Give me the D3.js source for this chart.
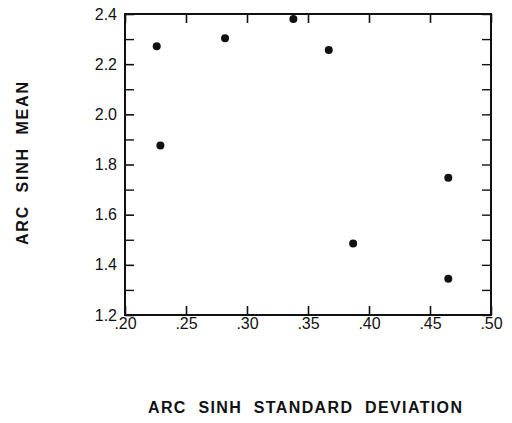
<!DOCTYPE html>
<html>
<head>
<meta charset="utf-8">
<script src="https://cdn.jsdelivr.net/npm/d3@7"></script>
<style>
  body { margin: 0; background: #fff; }
  svg text { font-family: "Liberation Sans", Arial, sans-serif; fill: #111; }
</style>
</head>
<body>
<svg id="chart" width="512" height="423"></svg>
<script>
// values
const sdValues   = [0.226, 0.229, 0.282, 0.338, 0.367, 0.387, 0.465, 0.465]
const meanValues = [2.271, 1.876, 2.303, 2.380, 2.256, 1.485, 1.747, 1.345]
const xTicks = [0.20, 0.25, 0.30, 0.35, 0.40, 0.45, 0.50]
const yTicks = [1.2, 1.4, 1.6, 1.8, 2.0, 2.2, 2.4]
const yMinorTicks = [1.3, 1.5, 1.7, 1.9, 2.1, 2.3]
const xTitle = "ARC  SINH  STANDARD  DEVIATION"
const yTitle = "ARC  SINH  MEAN"

const svg = d3.select("#chart")
const plotLeft = 125, plotRight = 491, plotTop = 14, plotBottom = 315

const x = d3.scaleLinear().domain([0.20, 0.50]).range([plotLeft, plotRight])
const y = d3.scaleLinear().domain([1.2, 2.4]).range([plotBottom, plotTop])

const fmtX = d => d3.format(".2f")(d).replace(/^0/, "")
const fmtY = d3.format(".1f")
const tickLen = 9

// bottom axis, ticks pointing up into the plot
svg.append("g")
  .attr("transform", `translate(0,${plotBottom})`)
  .call(d3.axisBottom(x).tickValues(xTicks).tickSize(-tickLen).tickPadding(2).tickFormat(fmtX))
  .call(g => g.select(".domain").remove())
  .call(g => g.selectAll("line").attr("stroke", "#111").attr("stroke-width", 1.6))
  .call(g => g.selectAll("text").attr("font-size", 16).attr("fill", "#111").attr("dy", "0.75em"))

// top axis, ticks only
svg.append("g")
  .attr("transform", `translate(0,${plotTop})`)
  .call(d3.axisTop(x).tickValues(xTicks).tickSize(-tickLen).tickFormat(""))
  .call(g => g.select(".domain").remove())
  .call(g => g.selectAll("line").attr("stroke", "#111").attr("stroke-width", 1.6))

// left axis
svg.append("g")
  .attr("transform", `translate(${plotLeft},0)`)
  .call(d3.axisLeft(y).tickValues(yTicks).tickSize(-tickLen).tickPadding(8).tickFormat(fmtY))
  .call(g => g.select(".domain").remove())
  .call(g => g.selectAll("line").attr("stroke", "#111").attr("stroke-width", 1.6))
  .call(g => g.selectAll("text").attr("font-size", 16).attr("fill", "#111"))

svg.append("g")
  .attr("transform", `translate(${plotLeft},0)`)
  .call(d3.axisLeft(y).tickValues(yMinorTicks).tickSize(-tickLen).tickFormat(""))
  .call(g => g.select(".domain").remove())
  .call(g => g.selectAll("line").attr("stroke", "#111").attr("stroke-width", 1.4))

// right axis
svg.append("g")
  .attr("transform", `translate(${plotRight},0)`)
  .call(d3.axisRight(y).tickValues(yTicks.concat(yMinorTicks)).tickSize(-tickLen).tickFormat(""))
  .call(g => g.select(".domain").remove())
  .call(g => g.selectAll("line").attr("stroke", "#111").attr("stroke-width", 1.4))

// frame
svg.append("rect")
  .attr("x", plotLeft).attr("y", plotTop)
  .attr("width", plotRight - plotLeft).attr("height", plotBottom - plotTop)
  .attr("fill", "none").attr("stroke", "#111").attr("stroke-width", 2)

// points
svg.append("g")
  .selectAll("circle")
  .data(sdValues.map((d, i) => ({sd: d, mean: meanValues[i]})))
  .join("circle")
  .attr("cx", d => x(d.sd))
  .attr("cy", d => y(d.mean))
  .attr("r", 4)
  .attr("fill", "#111")

// axis titles
svg.append("text")
  .attr("x", 305).attr("y", 413)
  .attr("text-anchor", "middle")
  .attr("font-size", 16).attr("font-weight", "bold")
  .attr("textLength", 314).attr("lengthAdjust", "spacing")
  .style("white-space", "pre")
  .text(xTitle)

svg.append("text")
  .attr("transform", "translate(28,163.5) rotate(-90)")
  .attr("text-anchor", "middle")
  .attr("font-size", 16).attr("font-weight", "bold")
  .attr("textLength", 163).attr("lengthAdjust", "spacing")
  .style("white-space", "pre")
  .text(yTitle)
</script>
</body>
</html>
